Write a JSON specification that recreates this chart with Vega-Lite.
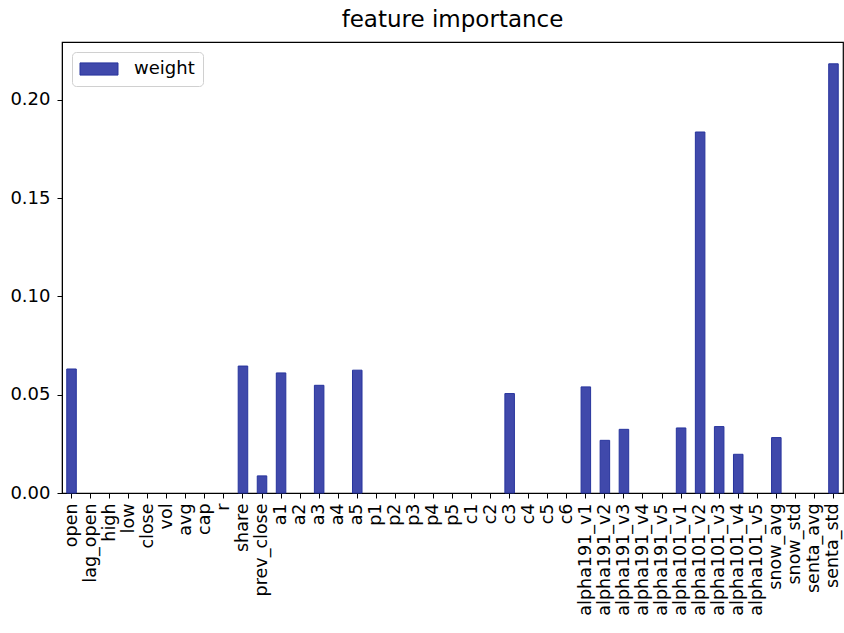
{
  "$schema": "https://vega.github.io/schema/vega-lite/v6.json",
  "autosize": "none",
  "padding": {"left": 62, "top": 42, "right": 1, "bottom": 140},
  "width": 781,
  "height": 451,
  "background": "white",
  "config": {
    "font": "DejaVu Sans",
    "view": {"stroke": "black", "strokeWidth": 1.2}
  },
  "title": {
    "text": "feature importance",
    "fontSize": 23,
    "fontWeight": "normal",
    "color": "black",
    "anchor": "middle",
    "offset": 10
  },
  "data": {
    "values": [
      {"feature": "open", "weight": 0.0631},
      {"feature": "lag_open", "weight": 0},
      {"feature": "high", "weight": 0},
      {"feature": "low", "weight": 0},
      {"feature": "close", "weight": 0},
      {"feature": "vol", "weight": 0},
      {"feature": "avg", "weight": 0},
      {"feature": "cap", "weight": 0},
      {"feature": "r", "weight": 0},
      {"feature": "share", "weight": 0.0646},
      {"feature": "prev_close", "weight": 0.0087},
      {"feature": "a1", "weight": 0.0611},
      {"feature": "a2", "weight": 0},
      {"feature": "a3", "weight": 0.0548},
      {"feature": "a4", "weight": 0},
      {"feature": "a5", "weight": 0.0625},
      {"feature": "p1", "weight": 0},
      {"feature": "p2", "weight": 0},
      {"feature": "p3", "weight": 0},
      {"feature": "p4", "weight": 0},
      {"feature": "p5", "weight": 0},
      {"feature": "c1", "weight": 0},
      {"feature": "c2", "weight": 0},
      {"feature": "c3", "weight": 0.0506},
      {"feature": "c4", "weight": 0},
      {"feature": "c5", "weight": 0},
      {"feature": "c6", "weight": 0},
      {"feature": "alpha191_v1", "weight": 0.054},
      {"feature": "alpha191_v2", "weight": 0.0268},
      {"feature": "alpha191_v3", "weight": 0.0324},
      {"feature": "alpha191_v4", "weight": 0},
      {"feature": "alpha191_v5", "weight": 0},
      {"feature": "alpha101_v1", "weight": 0.0331},
      {"feature": "alpha101_v2", "weight": 0.1837},
      {"feature": "alpha101_v3", "weight": 0.0338},
      {"feature": "alpha101_v4", "weight": 0.0197},
      {"feature": "alpha101_v5", "weight": 0},
      {"feature": "snow_avg", "weight": 0.0282},
      {"feature": "snow_std", "weight": 0},
      {"feature": "senta_avg", "weight": 0},
      {"feature": "senta_std", "weight": 0.2184}
    ]
  },
  "mark": {"type": "bar", "stroke": "#27349d", "strokeWidth": 1},
  "encoding": {
    "x": {
      "field": "feature",
      "type": "nominal",
      "sort": null,
      "scale": {"paddingInner": 0.5, "paddingOuter": 0.25},
      "axis": {
        "title": null,
        "labelAngle": -90,
        "labelFontSize": 17.5,
        "labelColor": "black",
        "labelPadding": 5,
        "tickColor": "black",
        "tickSize": 5,
        "domainColor": "black",
        "labelLimit": 200
      }
    },
    "y": {
      "field": "weight",
      "type": "quantitative",
      "scale": {"domain": [0, 0.2295], "nice": false},
      "axis": {
        "title": null,
        "values": [0, 0.05, 0.1, 0.15, 0.2],
        "format": ".2f",
        "labelFontSize": 18,
        "labelColor": "black",
        "labelPadding": 7,
        "tickColor": "black",
        "tickSize": 5,
        "domainColor": "black",
        "grid": false
      }
    },
    "strokeOpacity": {
      "condition": {"test": "datum.weight === 0", "value": 0},
      "value": 1
    },
    "color": {
      "datum": "weight",
      "scale": {"range": ["#4049ab"]},
      "legend": {
        "title": null,
        "orient": "top-left",
        "offset": 10,
        "fillColor": "white",
        "strokeColor": "#d0d0d0",
        "cornerRadius": 4,
        "padding": 8,
        "labelFontSize": 18,
        "labelColor": "black",
        "labelOffset": 26,
        "symbolOffset": 10,
        "symbolType": "M-2.5,-0.8L2.5,-0.8L2.5,0.8L-2.5,0.8Z",
        "symbolSize": 231,
        "symbolOpacity": 1,
        "symbolStrokeColor": "#27349d",
        "symbolStrokeWidth": 1
      }
    }
  }
}
